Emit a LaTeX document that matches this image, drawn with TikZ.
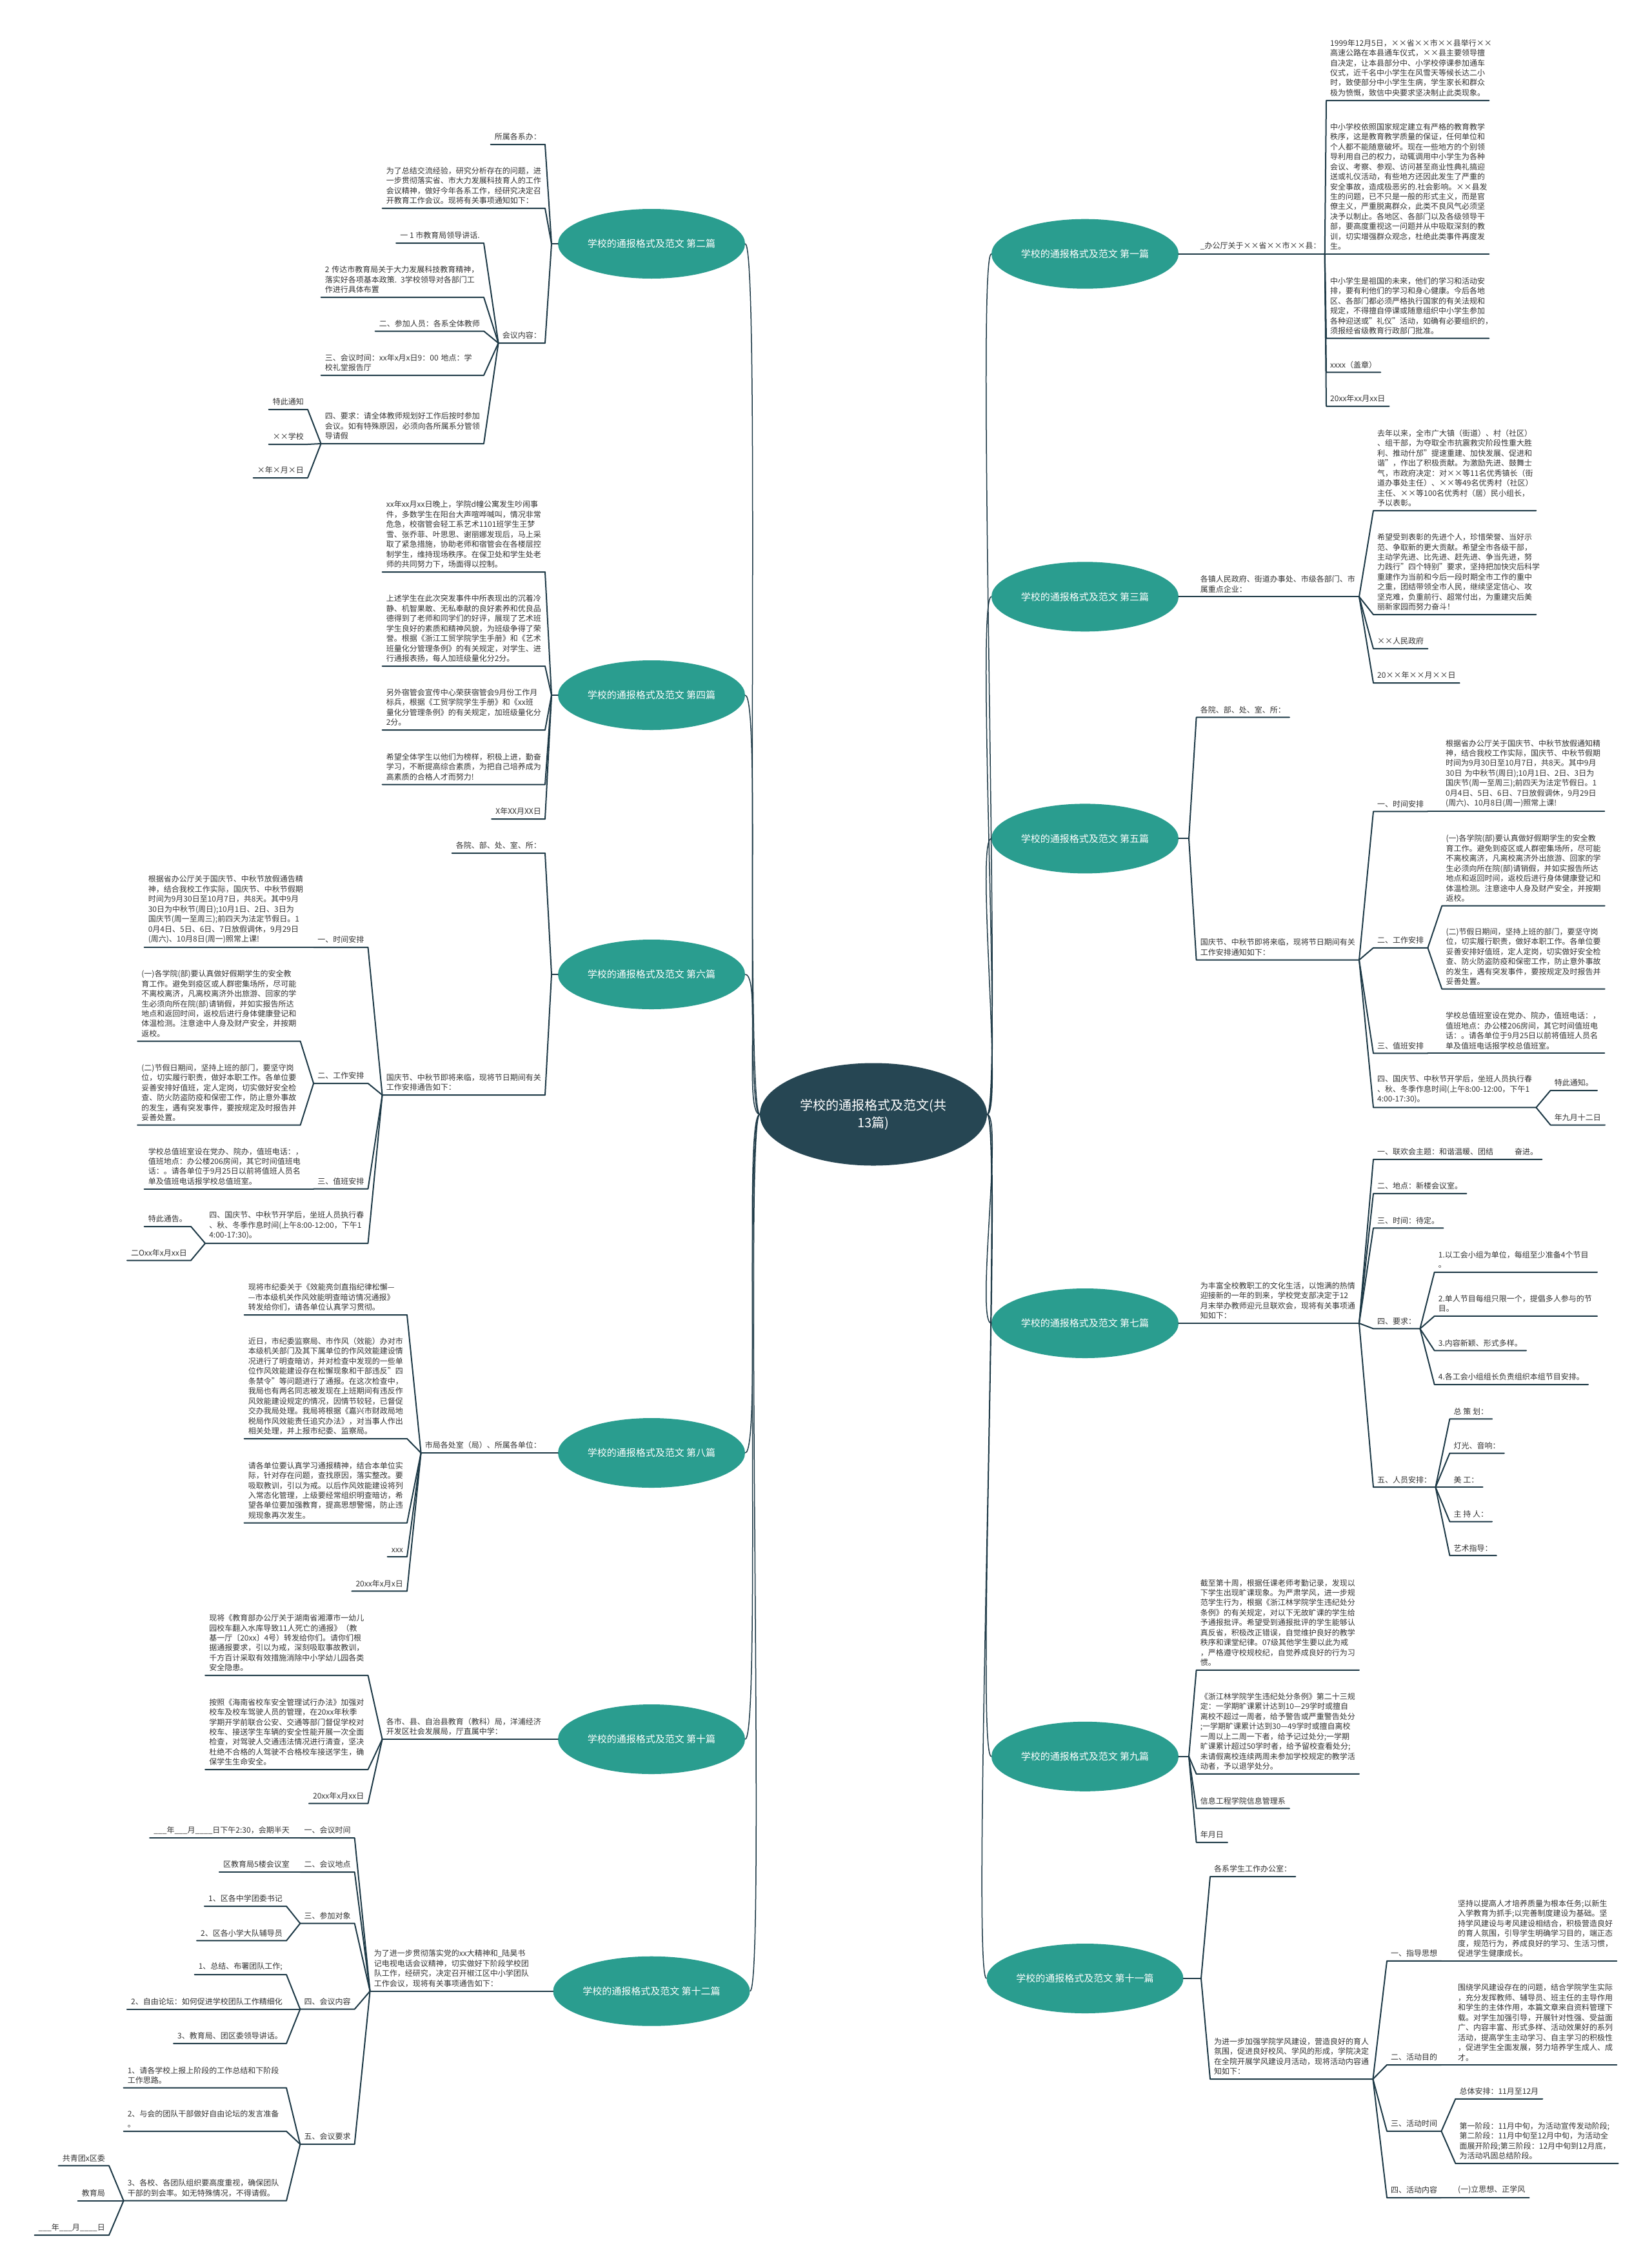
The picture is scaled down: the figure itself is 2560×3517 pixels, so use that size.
\documentclass[tikz,border=0pt]{standalone}
\usepackage{fontspec}
\setmainfont{Noto Sans CJK SC}
\usepackage{tikz}
\usetikzlibrary{positioning, shapes.geometric}
\definecolor{rootfill}{HTML}{264653}
\definecolor{branchfill}{HTML}{2A9D8F}
\definecolor{linec}{HTML}{1E3A47}
\definecolor{txt}{HTML}{333333}
\newcommand\leaffont{\fontsize{12}{15.45}\selectfont}
\hfuzz=40pt
\begin{document}
\begin{tikzpicture}[x=1pt, y=-1pt,
  root/.style={ellipse, fill=rootfill, text=white, minimum width=352pt, minimum height=159pt, inner sep=0pt, align=center, font=\fontsize{20}{27}\selectfont},
  branch/.style={ellipse, fill=branchfill, text=white, minimum width=290pt, minimum height=108pt, inner sep=0pt, font=\fontsize{15}{18}\selectfont},
  lnote/.style={anchor=south east, align=left, inner xsep=6pt, inner ysep=6pt, text=txt, font=\leaffont},
  rnote/.style={lnote, anchor=south west},
  para/.style={text width=240pt},
  uline/.style={draw=linec, line width=2pt, line join=round, line cap=round},
  conn/.style={draw=linec, line width=1.5pt}]
\useasboundingbox[fill=white] (0,0) rectangle (2560,3517);

% centre and branches
\node[root] (root) at (1354,1728) {学校的通报格式及范文(共\\13篇)};
\node[branch] (b2) at (1010,378) {学校的通报格式及范文 第二篇};
\node[branch] (b4) at (1010,1078) {学校的通报格式及范文 第四篇};
\node[branch] (b6) at (1010,1511) {学校的通报格式及范文 第六篇};
\node[branch] (b8) at (1010,2253) {学校的通报格式及范文 第八篇};
\node[branch] (b10) at (1010,2697) {学校的通报格式及范文 第十篇};
\node[branch, minimum width=305pt] (b12) at (1010,3087.7) {学校的通报格式及范文 第十二篇};
\node[branch] (b1) at (1682,393.7) {学校的通报格式及范文 第一篇};
\node[branch] (b3) at (1682,925.3) {学校的通报格式及范文 第三篇};
\node[branch] (b5) at (1682,1300.4) {学校的通报格式及范文 第五篇};
\node[branch] (b7) at (1682,2052) {学校的通报格式及范文 第七篇};
\node[branch] (b9) at (1682,2723.8) {学校的通报格式及范文 第九篇};
\node[branch, minimum width=305pt] (b11) at (1682,3068) {学校的通报格式及范文 第十一篇};

\foreach \b in {b2,b4,b6,b8,b10,b12}
  \draw[conn] (root.west) .. controls +(-25,0) and +(25,0) .. (\b.east);
\foreach \b in {b1,b3,b5,b7,b9,b11}
  \draw[conn] (root.east) .. controls +(25,0) and +(-25,0) .. (\b.west);

% 第二篇
\coordinate (j2) at (855,378);
\node[lnote] (n2a) at (845,224) {所属各系办：};
\node[lnote, para] (n2b) at (845,323) {为了总结交流经验，研究分析存在的问题，进\\一步贯彻落实省、市大力发展科技育人的工作\\会议精神，做好今年各系工作，经研究决定召\\开教育工作会议。现将有关事项通知如下：};
\node[lnote] (n2c) at (845,532) {会议内容：};
\node[lnote] (n2c1) at (750,377) {一 1 市教育局领导讲话.};
\node[lnote, para] (n2c2) at (750,461) {2 传达市教育局关于大力发展科技教育精神，\\落实好各项基本政策. 3学校领导对各部门工\\作进行具体布置};
\node[lnote] (n2c3) at (750,513.5) {二、参加人员：各系全体教师};
\node[lnote, para] (n2c4) at (750,582) {三、会议时间：xx年x月x日9：00 地点：学\\校礼堂报告厅};
\node[lnote, para] (n2c5) at (750,688) {四、要求：请全体教师规划好工作后按时参加\\会议。如有特殊原因，必须向各所属系分管领\\导请假};
\node[lnote] (n2d1) at (477,635) {特此通知};
\node[lnote] (n2d2) at (477,689) {××学校};
\node[lnote] (n2d3) at (477,741) {×年×月×日};
\draw[uline] (b2.west) -- (j2);
\foreach \c in {n2a,n2b,n2c}
  \draw[uline] (j2) -- (\c.south east) -- (\c.south west);
\foreach \c in {n2c1,n2c2,n2c3,n2c4,n2c5}
  \draw[uline] (n2c.south west) -- (\c.south east) -- (\c.south west);
\foreach \c in {n2d1,n2d2,n2d3}
  \draw[uline] (n2c5.south west) -- (\c.south east) -- (\c.south west);

% 第四篇
\coordinate (j4) at (855,1078);
\node[lnote, para] (n4a) at (845,887) {xx年xx月xx日晚上，学院d幢公寓发生吵闹事\\件，多数学生在阳台大声喧哗喊叫，情况非常\\危急，校宿管会轻工系艺术1101班学生王梦\\雪、张乔菲、叶思思、谢丽娜发现后，马上采\\取了紧急措施，协助老师和宿管会在各楼层控\\制学生，维持现场秩序。在保卫处和学生处老\\师的共同努力下，场面得以控制。};
\node[lnote, para] (n4b) at (845,1033) {上述学生在此次突发事件中所表现出的沉着冷\\静、机智果敢、无私奉献的良好素养和优良品\\德得到了老师和同学们的好评，展现了艺术班\\学生良好的素质和精神风貌，为班级争得了荣\\誉。根据《浙江工贸学院学生手册》和《艺术\\班量化分管理条例》的有关规定，对学生、进\\行通报表扬，每人加班级量化分2分。};
\node[lnote, para] (n4c) at (845,1132) {另外宿管会宣传中心荣获宿管会9月份工作月\\标兵，根据《工贸学院学生手册》和《xx班\\量化分管理条例》的有关规定，加班级量化分\\2分。};
\node[lnote, para] (n4d) at (845,1216.5) {希望全体学生以他们为榜样，积极上进，勤奋\\学习，不断提高综合素质，为把自己培养成为\\高素质的合格人才而努力!};
\node[lnote] (n4e) at (845,1270) {X年XX月XX日};
\draw[uline] (b4.west) -- (j4);
\foreach \c in {n4a,n4b,n4c,n4d,n4e}
  \draw[uline] (j4) -- (\c.south east) -- (\c.south west);

% 第六篇
\coordinate (j6) at (855,1511);
\node[lnote] (n6a) at (845,1323) {各院、部、处、室、所：};
\node[lnote, para] (n6b) at (845,1698) {国庆节、中秋节即将来临，现将节日期间有关\\工作安排通告如下：};
\node[lnote] (n6b1) at (570.5,1469) {一、时间安排};
\node[lnote, para] (n6b1a) at (476,1469) {根据省办公厅关于国庆节、中秋节放假通告精\\神，结合我校工作实际，国庆节、中秋节假期\\时间为9月30日至10月7日，共8天。其中9月\\30日为中秋节(周日);10月1日、2日、3日为\\国庆节(周一至周三);前四天为法定节假日。1\\0月4日、5日、6日、7日放假调休，9月29日\\(周六)、10月8日(周一)照常上课!};
\node[lnote] (n6b2) at (570.5,1680) {二、工作安排};
\node[lnote, para] (n6b2a) at (465.6,1614.6) {(一)各学院(部)要认真做好假期学生的安全教\\育工作。避免到疫区或人群密集场所，尽可能\\不离校离济，凡离校离济外出旅游、回家的学\\生必须向所在院(部)请销假，并如实报告所达\\地点和返回时间，返校后进行身体健康登记和\\体温检测。注意途中人身及财产安全，并按期\\返校。};
\node[lnote, para] (n6b2b) at (465.6,1744.7) {(二)节假日期间，坚持上班的部门，要坚守岗\\位，切实履行职责，做好本职工作。各单位要\\妥善安排好值班，定人定岗，切实做好安全检\\查、防火防盗防疫和保密工作，防止意外事故\\的发生，遇有突发事件，要按规定及时报告并\\妥善处置。};
\node[lnote] (n6b3) at (570.5,1843.6) {三、值班安排};
\node[lnote, para] (n6b3a) at (476,1843.6) {学校总值班室设在党办、院办，值班电话：，\\值班地点：办公楼206房间，其它时间值班电\\话：。请各单位于9月25日以前将值班人员名\\单及值班电话报学校总值班室。};
\node[lnote, para] (n6b4) at (570.5,1928) {四、国庆节、中秋节开学后，坐班人员执行春\\、秋、冬季作息时间(上午8:00-12:00，下午1\\4:00-17:30)。};
\node[lnote] (n6b5) at (296,1902) {特此通告。};
\node[lnote] (n6b6) at (296,1954.5) {二Oxx年x月xx日};
\draw[uline] (b6.west) -- (j6);
\foreach \c in {n6a,n6b}
  \draw[uline] (j6) -- (\c.south east) -- (\c.south west);
\foreach \c in {n6b1,n6b2,n6b3,n6b4}
  \draw[uline] (n6b.south west) -- (\c.south east) -- (\c.south west);
\draw[uline] (n6b1.south west) -- (n6b1a.south east) -- (n6b1a.south west);
\draw[uline] (n6b3.south west) -- (n6b3a.south east) -- (n6b3a.south west);
\foreach \c in {n6b2a,n6b2b}
  \draw[uline] (n6b2.south west) -- (\c.south east) -- (\c.south west);
\foreach \c in {n6b5,n6b6}
  \draw[uline] (n6b4.south west) -- (\c.south east) -- (\c.south west);

% 第八篇
\coordinate (j8) at (855,2253);
\node[lnote] (n8) at (845,2253) {市局各处室（局）、所属各单位：};
\node[lnote, para] (n8a) at (631,2039) {现将市纪委关于《效能亮剑直指纪律松懈—\\—市本级机关作风效能明查暗访情况通报》\\转发给你们，请各单位认真学习贯彻。};
\node[lnote, para] (n8b) at (631,2231) {近日，市纪委监察局、市作风（效能）办对市\\本级机关部门及其下属单位的作风效能建设情\\况进行了明查暗访，并对检查中发现的一些单\\位作风效能建设存在松懈现象和干部违反"四\\条禁令"等问题进行了通报。在这次检查中，\\我局也有两名同志被发现在上班期间有违反作\\风效能建设规定的情况，因情节较轻，已督促\\交办我局处理。我局将根据《嘉兴市财政局地\\税局作风效能责任追究办法》，对当事人作出\\相关处理，并上报市纪委、监察局。};
\node[lnote, para] (n8c) at (631,2361.6) {请各单位要认真学习通报精神，结合本单位实\\际，针对存在问题，查找原因，落实整改。要\\吸取教训，引以为戒。以后作风效能建设将列\\入常态化管理，上级要经常组织明查暗访，希\\望各单位要加强教育，提高思想警惕，防止违\\规现象再次发生。};
\node[lnote] (n8d) at (631,2414) {xxx};
\node[lnote] (n8e) at (631,2467.4) {20xx年x月x日};
\draw[uline] (b8.west) -- (j8) -- (n8.south east) -- (n8.south west);
\foreach \c in {n8a,n8b,n8c,n8d,n8e}
  \draw[uline] (n8.south west) -- (\c.south east) -- (\c.south west);

% 第十篇
\coordinate (j10) at (855,2697);
\node[lnote, para] (n10) at (845,2697) {各市、县、自治县教育（教科）局，洋浦经济\\开发区社会发展局，厅直属中学：};
\node[lnote, para] (n10a) at (570.5,2598) {现将《教育部办公厅关于湖南省湘潭市一幼儿\\园校车翻入水库导致11人死亡的通报》（教\\基一厅〔20xx〕4号）转发给你们。请你们根\\据通报要求，引以为戒，深刻吸取事故教训，\\千方百计采取有效措施消除中小学幼儿园各类\\安全隐患。};
\node[lnote, para] (n10b) at (570.5,2744) {按照《海南省校车安全管理试行办法》加强对\\校车及校车驾驶人员的管理，在20xx年秋季\\学期开学前联合公安、交通等部门督促学校对\\校车、接送学生车辆的安全性能开展一次全面\\检查，对驾驶人交通违法情况进行清查，坚决\\杜绝不合格的人驾驶不合格校车接送学生，确\\保学生生命安全。};
\node[lnote] (n10c) at (570.5,2796.7) {20xx年x月xx日};
\draw[uline] (b10.west) -- (j10) -- (n10.south east) -- (n10.south west);
\foreach \c in {n10a,n10b,n10c}
  \draw[uline] (n10.south west) -- (\c.south east) -- (\c.south west);

% 第十二篇
\coordinate (j12) at (838,3087.7);
\node[lnote, para] (n12) at (826,3087.7) {为了进一步贯彻落实党的xx大精神和\_陆昊书\\记电视电话会议精神，切实做好下阶段学校团\\队工作，经研究，决定召开椒江区中小学团队\\工作会议，现将有关事项通告如下：};
\node[lnote] (n12a) at (549.7,2850) {一、会议时间};
\node[lnote] (n12a1) at (455,2850) {\_\_\_年\_\_\_月\_\_\_\_日下午2:30，会期半天};
\node[lnote] (n12b) at (549.7,2903) {二、会议地点};
\node[lnote] (n12b1) at (455,2903) {区教育局5楼会议室};
\node[lnote] (n12c) at (549.7,2982.6) {三、参加对象};
\node[lnote] (n12c1) at (444,2956) {1、区各中学团委书记};
\node[lnote] (n12c2) at (444,3009.4) {2、区各小学大队辅导员};
\node[lnote] (n12d) at (549.7,3115.6) {四、会议内容};
\node[lnote] (n12d1) at (444,3062) {1、总结、布署团队工作;};
\node[lnote] (n12d2) at (444,3115.6) {2、自由论坛：如何促进学校团队工作精细化};
\node[lnote] (n12d3) at (444,3168.8) {3、教育局、团区委领导讲话。};
\node[lnote] (n12e) at (549.7,3325) {五、会议要求};
\node[lnote, para] (n12e1) at (444,3237.6) {1、请各学校上报上阶段的工作总结和下阶段\\工作思路。};
\node[lnote, para] (n12e2) at (444,3305) {2、与会的团队干部做好自由论坛的发言准备\\。};
\node[lnote, para] (n12e3) at (444,3412.7) {3、各校、各团队组织要高度重视，确保团队\\干部的到会率。如无特殊情况，不得请假。};
\node[lnote] (n12f1) at (169,3358.4) {共青团x区委};
\node[lnote] (n12f2) at (169,3412.7) {教育局};
\node[lnote] (n12f3) at (169,3466) {\_\_\_年\_\_\_月\_\_\_\_日};
\draw[uline] (b12.west) -- (j12) -- (n12.south east) -- (n12.south west);
\foreach \c in {n12a,n12b,n12c,n12d,n12e}
  \draw[uline] (n12.south west) -- (\c.south east) -- (\c.south west);
\draw[uline] (n12a.south west) -- (n12a1.south east) -- (n12a1.south west);
\draw[uline] (n12b.south west) -- (n12b1.south east) -- (n12b1.south west);
\foreach \c in {n12c1,n12c2}
  \draw[uline] (n12c.south west) -- (\c.south east) -- (\c.south west);
\foreach \c in {n12d1,n12d2,n12d3}
  \draw[uline] (n12d.south west) -- (\c.south east) -- (\c.south west);
\foreach \c in {n12e1,n12e2,n12e3}
  \draw[uline] (n12e.south west) -- (\c.south east) -- (\c.south west);
\foreach \c in {n12f1,n12f2,n12f3}
  \draw[uline] (n12e3.south west) -- (\c.south east) -- (\c.south west);

% 第一篇
\coordinate (j1) at (1843,393.7);
\node[rnote] (n1) at (1854.6,393.7) {\_办公厅关于××省××市××县：};
\node[rnote, para] (n1a) at (2056,155.9) {1999年12月5日，××省××市××县举行××\\高速公路在本县通车仪式，××县主要领导擅\\自决定，让本县部分中、小学校停课参加通车\\仪式，近千名中小学生在风雪天等候长达二小\\时，致使部分中小学生生病，学生家长和群众\\极为愤慨，致信中央要求坚决制止此类现象。};
\node[rnote, para] (n1b) at (2056,393.7) {中小学校依照国家规定建立有严格的教育教学\\秩序，这是教育教学质量的保证，任何单位和\\个人都不能随意破坏。现在一些地方的个别领\\导利用自己的权力，动辄调用中小学生为各种\\会议、考察、参观、访问甚至商业性典礼搞迎\\送或礼仪活动，有些地方还因此发生了严重的\\安全事故，造成极恶劣的.社会影响。××县发\\生的问题，已不只是一般的形式主义，而是官\\僚主义，严重脱离群众，此类不良风气必须坚\\决予以制止。各地区、各部门以及各级领导干\\部，要高度重视这一问题并从中吸取深刻的教\\训，切实增强群众观念，杜绝此类事件再度发\\生。};
\node[rnote, para] (n1c) at (2056,524.7) {中小学生是祖国的未来，他们的学习和活动安\\排，要有利他们的学习和身心健康。今后各地\\区、各部门都必须严格执行国家的有关法规和\\规定，不得擅自停课或随意组织中小学生参加\\各种迎送或"礼仪"活动，如确有必要组织的，\\须报经省级教育行政部门批准。};
\node[rnote] (n1d) at (2056,577.4) {xxxx（盖章）};
\node[rnote] (n1e) at (2056,630) {20xx年xx月xx日};
\draw[uline] (b1.east) -- (j1) -- (n1.south west) -- (n1.south east);
\foreach \c in {n1a,n1b,n1c,n1d,n1e}
  \draw[uline] (n1.south east) -- (\c.south west) -- (\c.south east);

% 第三篇
\coordinate (j3) at (1843,925.3);
\node[rnote, para] (n3) at (1854.6,925.3) {各镇人民政府、街道办事处、市级各部门、市\\属重点企业：};
\node[rnote, para] (n3a) at (2129,791.8) {去年以来，全市广大镇（街道）、村（社区）\\、组干部，为夺取全市抗震救灾阶段性重大胜\\利、推动什邡"提速重建、加快发展、促进和\\谐"，作出了积极贡献。为激励先进、鼓舞士\\气，市政府决定：对××等11名优秀镇长（街\\道办事处主任）、××等49名优秀村（社区）\\主任、××等100名优秀村（居）民小组长，\\予以表彰。};
\node[rnote, para] (n3b) at (2129,953) {希望受到表彰的先进个人，珍惜荣誉、当好示\\范、争取新的更大贡献。希望全市各级干部，\\主动学先进、比先进、赶先进、争当先进，努\\力践行"四个特别"要求，坚持把加快灾后科学\\重建作为当前和今后一段时期全市工作的重中\\之重，团结带领全市人民，继续坚定信心、攻\\坚克难，负重前行、超常付出，为重建灾后美\\丽新家园而努力奋斗！};
\node[rnote] (n3c) at (2129,1005.9) {××人民政府};
\node[rnote] (n3d) at (2129,1059) {20××年××月××日};
\draw[uline] (b3.east) -- (j3) -- (n3.south west) -- (n3.south east);
\foreach \c in {n3a,n3b,n3c,n3d}
  \draw[uline] (n3.south east) -- (\c.south west) -- (\c.south east);

% 第五篇
\coordinate (j5) at (1843,1300.4);
\node[rnote] (n5a) at (1854.6,1112.4) {各院、部、处、室、所：};
\node[rnote, para] (n5b) at (1854.6,1488.6) {国庆节、中秋节即将来临，现将节日期间有关\\工作安排通知如下：};
\node[rnote] (n5b1) at (2129,1258.3) {一、时间安排};
\node[rnote, para] (n5b1a) at (2235,1258.3) {根据省办公厅关于国庆节、中秋节放假通知精\\神，结合我校工作实际，国庆节、中秋节假期\\时间为9月30日至10月7日，共8天。其中9月\\30日 为中秋节(周日);10月1日、2日、3日为\\国庆节(周一至周三);前四天为法定节假日。1\\0月4日、5日、6日、7日放假调休，9月29日\\(周六)、10月8日(周一)照常上课!};
\node[rnote] (n5b2) at (2129,1469.8) {二、工作安排};
\node[rnote, para] (n5b2a) at (2235.3,1404.7) {(一)各学院(部)要认真做好假期学生的安全教\\育工作。避免到疫区或人群密集场所，尽可能\\不离校离济，凡离校离济外出旅游、回家的学\\生必须向所在院(部)请销假，并如实报告所达\\地点和返回时间，返校后进行身体健康登记和\\体温检测。注意途中人身及财产安全，并按期\\返校。};
\node[rnote, para] (n5b2b) at (2235.3,1533.7) {(二)节假日期间，坚持上班的部门，要坚守岗\\位，切实履行职责，做好本职工作。各单位要\\妥善安排好值班，定人定岗，切实做好安全检\\查、防火防盗防疫和保密工作，防止意外事故\\的发生，遇有突发事件，要按规定及时报告并\\妥善处置。};
\node[rnote] (n5b3) at (2129,1633.4) {三、值班安排};
\node[rnote, para] (n5b3a) at (2235,1633.4) {学校总值班室设在党办、院办，值班电话：，\\值班地点：办公楼206房间，其它时间值班电\\话：。请各单位于9月25日以前将值班人员名\\单及值班电话报学校总值班室。};
\node[rnote, para] (n5b4) at (2129,1717.4) {四、国庆节、中秋节开学后，坐班人员执行春\\、秋、冬季作息时间(上午8:00-12:00，下午1\\4:00-17:30)。};
\node[rnote] (n5b5) at (2403.6,1691) {特此通知。};
\node[rnote] (n5b6) at (2403.6,1744.5) {年九月十二日};
\draw[uline] (b5.east) -- (j5);
\foreach \c in {n5a,n5b}
  \draw[uline] (j5) -- (\c.south west) -- (\c.south east);
\foreach \c in {n5b1,n5b2,n5b3,n5b4}
  \draw[uline] (n5b.south east) -- (\c.south west) -- (\c.south east);
\draw[uline] (n5b1.south east) -- (n5b1a.south west) -- (n5b1a.south east);
\draw[uline] (n5b3.south east) -- (n5b3a.south west) -- (n5b3a.south east);
\foreach \c in {n5b2a,n5b2b}
  \draw[uline] (n5b2.south east) -- (\c.south west) -- (\c.south east);
\foreach \c in {n5b5,n5b6}
  \draw[uline] (n5b4.south east) -- (\c.south west) -- (\c.south east);

% 第七篇
\coordinate (j7) at (1843,2052);
\node[rnote, para] (n7) at (1854.6,2052) {为丰富全校教职工的文化生活，以饱满的热情\\迎接新的一年的到来，学校党支部决定于12\\月末举办教师迎元旦联欢会，现将有关事项通\\知如下：};
\node[rnote] (n7a) at (2129,1797.8) {一、联欢会主题：和谐温暖、团结\hspace{33pt}奋进。};
\node[rnote] (n7b) at (2129,1850.8) {二、地点：新楼会议室。};
\node[rnote] (n7c) at (2129,1904.3) {三、时间：待定。};
\node[rnote] (n7d) at (2129,2060.4) {四、要求：};
\node[rnote, para] (n7d1) at (2223.7,1972.8) {1.以工会小组为单位，每组至少准备4个节目\\。};
\node[rnote, para] (n7d2) at (2223.7,2040.9) {2.单人节目每组只限一个，提倡多人参与的节\\目。};
\node[rnote] (n7d3) at (2223.7,2094.3) {3.内容新颖、形式多样。};
\node[rnote] (n7d4) at (2223.7,2147) {4.各工会小组组长负责组织本组节目安排。};
\node[rnote] (n7e) at (2129,2306.2) {五、人员安排：};
\node[rnote] (n7e1) at (2247.4,2200.4) {总 策 划：};
\node[rnote] (n7e2) at (2247.4,2253.5) {灯光、音响：};
\node[rnote] (n7e3) at (2247.4,2306.2) {美 工：};
\node[rnote] (n7e4) at (2247.4,2359.5) {主 持 人：};
\node[rnote] (n7e5) at (2247.4,2412.2) {艺术指导：};
\draw[uline] (b7.east) -- (j7) -- (n7.south west) -- (n7.south east);
\foreach \c in {n7a,n7b,n7c,n7d,n7e}
  \draw[uline] (n7.south east) -- (\c.south west) -- (\c.south east);
\foreach \c in {n7d1,n7d2,n7d3,n7d4}
  \draw[uline] (n7d.south east) -- (\c.south west) -- (\c.south east);
\foreach \c in {n7e1,n7e2,n7e3,n7e4,n7e5}
  \draw[uline] (n7e.south east) -- (\c.south west) -- (\c.south east);

% 第九篇
\coordinate (j9) at (1843,2723.8);
\node[rnote, para] (n9a) at (1854.6,2589.8) {截至第十周，根据任课老师考勤记录，发现以\\下学生出现旷课现象。为严肃学风，进一步规\\范学生行为，根据《浙江林学院学生违纪处分\\条例》的有关规定，对以下无故旷课的学生给\\予通报批评。希望受到通报批评的学生能够认\\真反省，积极改正错误，自觉维护良好的教学\\秩序和课堂纪律。07级其他学生要以此为戒\\，严格遵守校规校纪，自觉养成良好的行为习\\惯。};
\node[rnote, para] (n9b) at (1854.6,2750.9) {《浙江林学院学生违纪处分条例》第二十三规\\定：一学期旷课累计达到10—29学时或擅自\\离校不超过一周者，给予警告或严重警告处分\\;一学期旷课累计达到30—49学时或擅自离校\\一周以上二周一下者，给予记过处分;一学期\\旷课累计超过50学时者，给予留校查看处分;\\未请假离校连续两周未参加学校规定的教学活\\动者，予以退学处分。};
\node[rnote] (n9c) at (1854.6,2804.3) {信息工程学院信息管理系};
\node[rnote] (n9d) at (1854.6,2857) {年月日};
\draw[uline] (b9.east) -- (j9);
\foreach \c in {n9a,n9b,n9c,n9d}
  \draw[uline] (j9) -- (\c.south west) -- (\c.south east);

% 第十一篇
\coordinate (j11) at (1862,3068);
\node[rnote] (n11a) at (1876,2910) {各系学生工作办公室：};
\node[rnote, para] (n11b) at (1876,3224) {为进一步加强学院学风建设，营造良好的育人\\氛围，促进良好校风、学风的形成，学院决定\\在全院开展学风建设月活动，现将活动内容通\\知如下：};
\node[rnote] (n11b1) at (2150,3040.8) {一、指导思想};
\node[rnote, para] (n11b1a) at (2254,3040.8) {坚持以提高人才培养质量为根本任务;以新生\\入学教育为抓手;以完善制度建设为基础。坚\\持学风建设与考风建设相结合，积极营造良好\\的育人氛围，引导学生明确学习目的，端正态\\度，规范行为，养成良好的学习、生活习惯，\\促进学生健康成长。};
\node[rnote] (n11b2) at (2150,3202) {二、活动目的};
\node[rnote, para] (n11b2a) at (2254,3202) {围绕学风建设存在的问题，结合学院学生实际\\，充分发挥教师、辅导员、班主任的主导作用\\和学生的主体作用，本篇文章来自资料管理下\\载。对学生加强引导，开展针对性强、受益面\\广、内容丰富、形式多样、活动效果好的系列\\活动，提高学生主动学习、自主学习的积极性\\，促进学生全面发展，努力培养学生成人、成\\才。};
\node[rnote] (n11b3) at (2150,3304.8) {三、活动时间};
\node[rnote] (n11b3a) at (2256.3,3254.8) {总体安排：11月至12月};
\node[rnote, para] (n11b3b) at (2256.3,3354.8) {第一阶段：11月中旬，为活动宣传发动阶段;\\第二阶段：11月中旬至12月中旬，为活动全\\面展开阶段;第三阶段：12月中旬到12月底，\\为活动巩固总结阶段。};
\node[rnote] (n11b4) at (2150,3408) {四、活动内容};
\node[rnote] (n11b4a) at (2254,3408) {(一)立思想、正学风};
\draw[uline] (b11.east) -- (j11);
\foreach \c in {n11a,n11b}
  \draw[uline] (j11) -- (\c.south west) -- (\c.south east);
\foreach \c in {n11b1,n11b2,n11b3,n11b4}
  \draw[uline] (n11b.south east) -- (\c.south west) -- (\c.south east);
\draw[uline] (n11b1.south east) -- (n11b1a.south west) -- (n11b1a.south east);
\draw[uline] (n11b2.south east) -- (n11b2a.south west) -- (n11b2a.south east);
\draw[uline] (n11b4.south east) -- (n11b4a.south west) -- (n11b4a.south east);
\foreach \c in {n11b3a,n11b3b}
  \draw[uline] (n11b3.south east) -- (\c.south west) -- (\c.south east);
\end{tikzpicture}
\end{document}
